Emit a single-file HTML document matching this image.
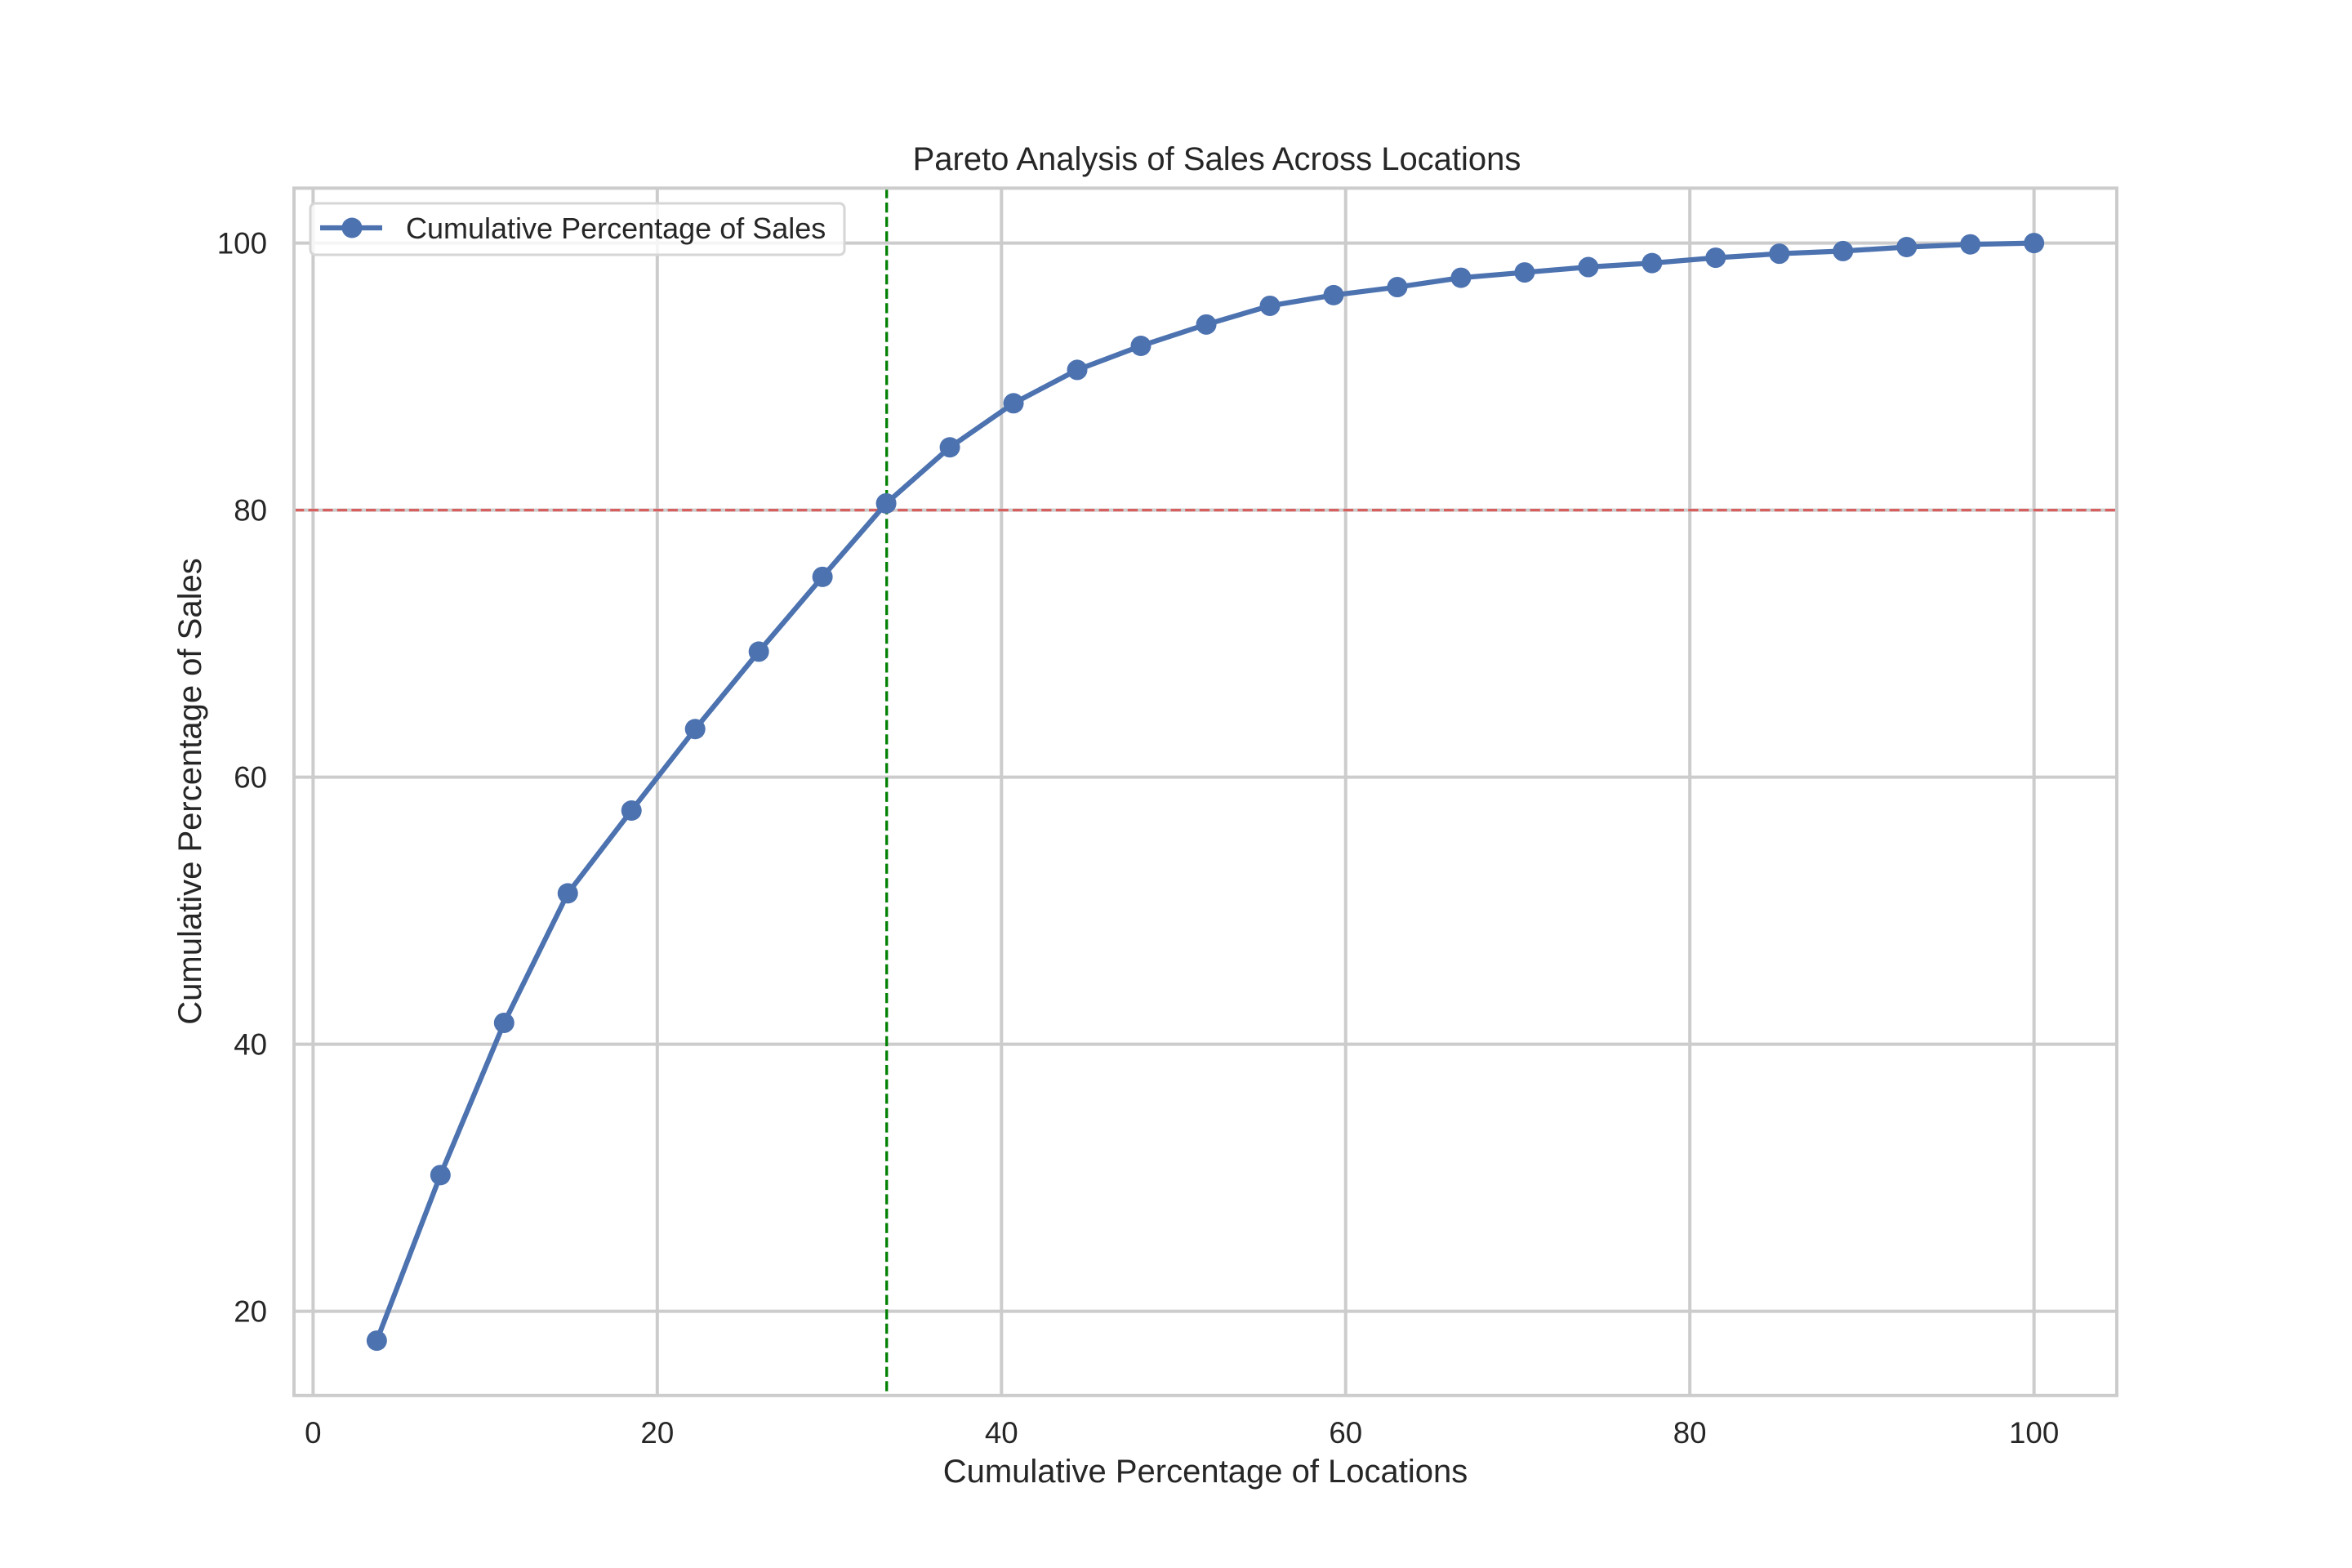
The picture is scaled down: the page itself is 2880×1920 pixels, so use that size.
<!DOCTYPE html>
<html><head><meta charset="utf-8"><style>
html,body{margin:0;padding:0;background:#fff;}
svg{display:block;font-family:"Liberation Sans",sans-serif;}
</style></head><body>
<svg id="chart" width="2880" height="1920" viewBox="0 0 2880 1920">
<rect x="0" y="0" width="2880" height="1920" fill="#fff"/>
<g id="grid"></g>
<g id="refs"></g>
<g id="series"></g>
<rect x="360" y="230.4" width="2232" height="1478.4" fill="none" stroke="#cccccc" stroke-width="4"/>
<g id="ticks"></g>
<text x="1490" y="208" font-size="40" fill="#262626" text-anchor="middle">Pareto Analysis of Sales Across Locations</text>
<text x="1476" y="1815" font-size="40" fill="#262626" text-anchor="middle">Cumulative Percentage of Locations</text>
<text x="0" y="0" font-size="40" fill="#262626" text-anchor="middle" transform="translate(246,969) rotate(-90)">Cumulative Percentage of Sales</text>
<g>
<rect x="380" y="249" width="654" height="63" rx="6" fill="#fff" fill-opacity="0.8" stroke="#d6d6d6" stroke-width="3"/>
<line x1="392" y1="279" x2="468" y2="279" stroke="#4c72b0" stroke-width="6.25"/>
<circle cx="431" cy="279" r="12.5" fill="#4c72b0"/>
<text x="497" y="292" font-size="36" fill="#262626">Cumulative Percentage of Sales</text>
</g>
</svg>
<script>
const xValues = [3.7,7.4,11.1,14.8,18.5,22.2,25.9,29.6,33.3,37.0,40.7,44.4,48.1,51.9,55.6,59.3,63.0,66.7,70.4,74.1,77.8,81.5,85.2,88.9,92.6,96.3,100];
const yValues = [17.8,30.2,41.6,51.3,57.5,63.6,69.4,75.0,80.5,84.7,88.0,90.5,92.3,93.9,95.3,96.1,96.7,97.4,97.8,98.2,98.5,98.9,99.2,99.4,99.7,99.9,100];
const xTicks = [0,20,40,60,80,100];
const yTicks = [20,40,60,80,100];
const thresholdY = [80];
const thresholdX = [33.33];

const NS = "http://www.w3.org/2000/svg";
const L = 360, R = 2592, T = 230.4, B = 1708.8;
const xMin = -1.11, xMax = 104.81, yMin = 13.69, yMax = 104.11;
const sx = v => L + (v - xMin) / (xMax - xMin) * (R - L);
const sy = v => B - (v - yMin) / (yMax - yMin) * (B - T);
function mk(tag, attrs, parent){const e=document.createElementNS(NS,tag);for(const k in attrs)e.setAttribute(k,attrs[k]);parent.appendChild(e);return e;}
const grid = document.getElementById('grid'), ticks = document.getElementById('ticks');
const refs = document.getElementById('refs'), series = document.getElementById('series');
xTicks.forEach(t=>{
  const g = mk('line',{x1:sx(t),x2:sx(t),y1:T,y2:B,stroke:'#cccccc','stroke-width':4},grid);
  
  
  const l = mk('text',{x:sx(t),y:1767,'font-size':36.7,fill:'#262626','text-anchor':'middle'},ticks);
  l.textContent = t;
  
  
});
yTicks.forEach(t=>{
  const g = mk('line',{x1:L,x2:R,y1:sy(t),y2:sy(t),stroke:'#cccccc','stroke-width':4},grid);
  
  
  const l = mk('text',{x:327,y:sy(t)+13,'font-size':36.7,fill:'#262626','text-anchor':'end'},ticks);
  l.textContent = t;
  
  
});
thresholdY.forEach(v=>{
  const e = mk('line',{x1:L,x2:R,y1:sy(v),y2:sy(v),stroke:'#d65f5f','stroke-width':3.3,'stroke-dasharray':'12.3 5.3'},refs);
  
  
});
thresholdX.forEach(v=>{
  const e = mk('line',{x1:sx(v),x2:sx(v),y1:T,y2:B,stroke:'#008000','stroke-width':3.3,'stroke-dasharray':'12.3 5.3'},refs);
  
  
});
const pts = xValues.map((x,i)=>sx(x)+','+sy(yValues[i])).join(' ');
const pl = mk('polyline',{points:pts,fill:'none',stroke:'#4c72b0','stroke-width':6.25,'stroke-linejoin':'round'},series);


xValues.forEach((x,i)=>{
  const c = mk('circle',{cx:sx(x),cy:sy(yValues[i]),r:12.5,fill:'#4c72b0'},series);
  
  
});
</script>
</body></html>
